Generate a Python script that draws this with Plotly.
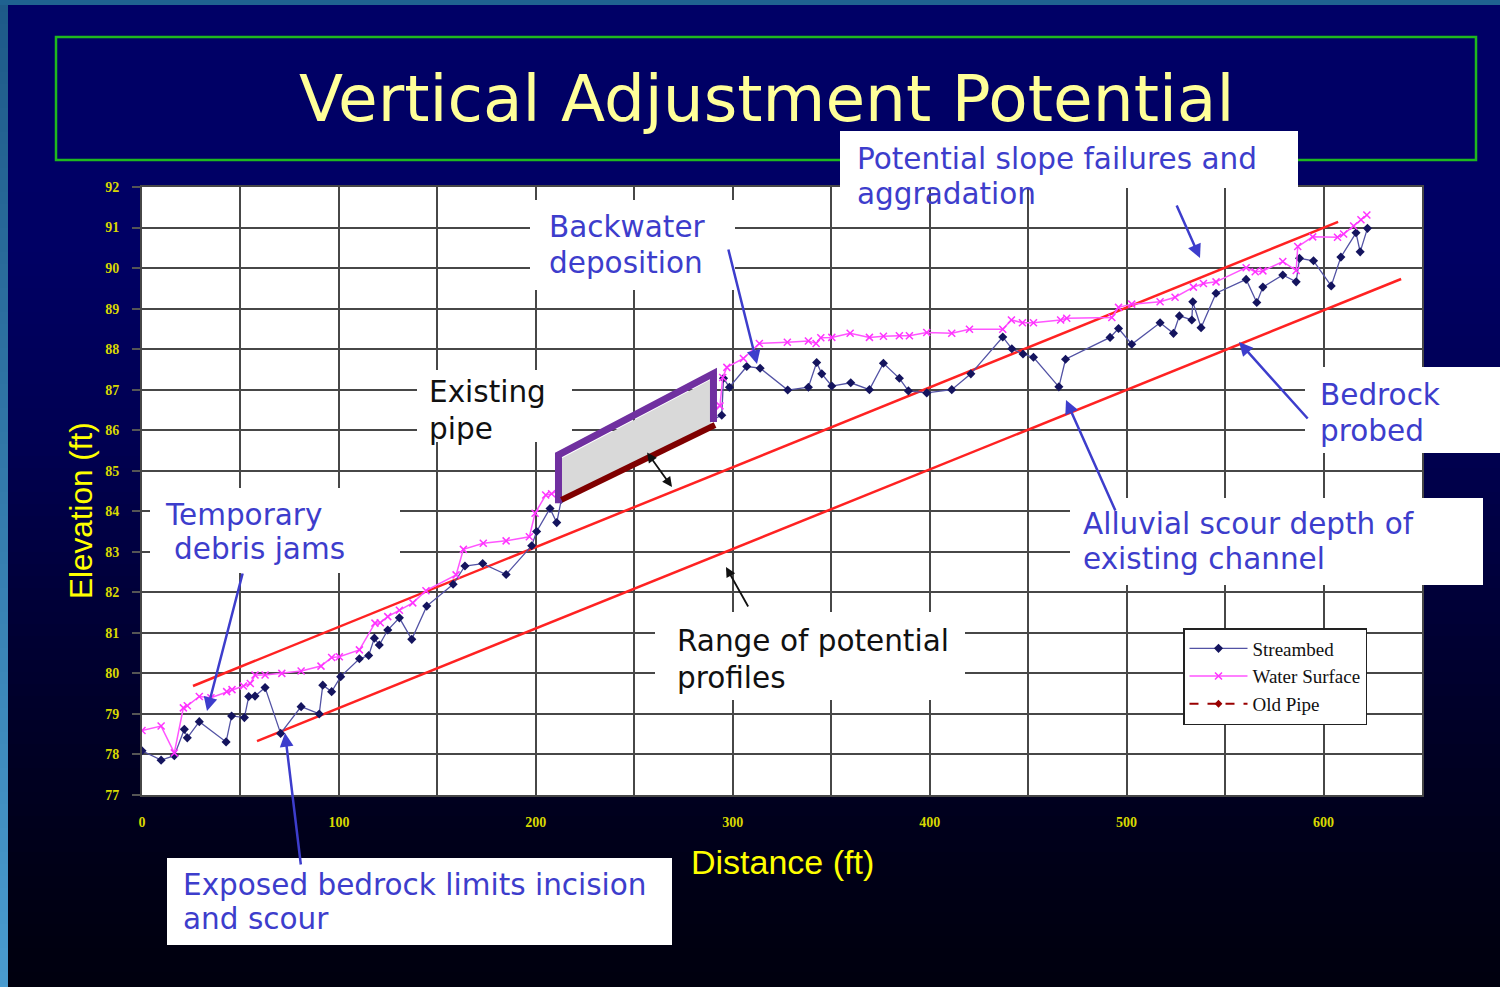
import plotly.graph_objects as go

# ---------------- data ----------------
streambed_x = [0, 9.7, 16.4, 21.5, 23, 29.1, 42.7, 45.5, 52, 54.2, 57.4, 62.5, 70.4, 80.8, 90, 91.8,
               96.3, 100.9, 110.4, 115.1, 118, 120.5, 124.8, 130.7, 137, 144.6, 158, 164, 173, 184.9,
               197.9, 200.4, 207.2, 210.6, 213, 294.4, 295.3, 298.3, 307.1, 313.9, 327.9, 338.4,
               342.6, 345.2, 350.3, 359.9, 369.4, 376.5, 384.6, 389.2, 398.5, 411.2, 420.9, 437.1,
               441.7, 447.4, 452.7, 465.6, 469, 491.6, 495.9, 502.6, 517, 523.8, 526.8, 533.1,
               533.6, 537.8, 545.4, 560.7, 566.1, 569.2, 579.3, 586.1, 587.8, 594.9, 603.9, 608.8,
               616.5, 618.6, 622.3]
streambed_y = [78.09, 77.86, 77.97, 78.62, 78.41, 78.81, 78.31, 78.95, 78.91, 79.43, 79.44, 79.65,
               78.52, 79.18, 79.0, 79.71, 79.55, 79.92, 80.36, 80.44, 80.87, 80.70, 81.07, 81.37,
               80.84, 81.66, 82.2, 82.65, 82.71, 82.44, 83.15, 83.5, 84.07, 83.72, 84.3, 86.37,
               87.28, 87.06, 87.57, 87.53, 86.99, 87.06, 87.67, 87.39, 87.09, 87.17, 87.0, 87.65,
               87.28, 86.97, 86.92, 87.0, 87.39, 88.3, 88.01, 87.88, 87.8, 87.07, 87.75, 88.29,
               88.51, 88.12, 88.65, 88.39, 88.82, 88.72, 89.17, 88.53, 89.38, 89.72, 89.15, 89.53,
               89.83, 89.66, 90.24, 90.18, 89.56, 90.27, 90.87, 90.40, 90.98]

water_x = [0, 9.7, 16.4, 21, 23, 29.1, 35, 43, 45.7, 51.5, 55, 57.4, 62.5, 71, 80.8, 90.9, 96.3,
           100.2, 110.4, 118.3, 121, 124.8, 130.7, 137.5, 144.2, 159.5, 163.2, 173.3, 184.9, 196.7,
           199.6, 205, 208, 293.5, 294.9, 297, 305.4, 313.5, 327.7, 338.4, 342.3, 344.7, 350.3,
           359.6, 369.4, 376.5, 384.6, 389.7, 398.5, 411.2, 420.2, 437.1, 441.5, 447.1, 452.7,
           466.5, 469.6, 492.5, 495.9, 502.6, 517, 524.6, 533.9, 539, 545.4, 560.7, 565.3, 569.2,
           579.3, 586.1, 586.9, 594.5, 607.1, 610.2, 615.3, 619, 622]
water_y = [78.59, 78.70, 78.04, 79.15, 79.2, 79.43, 79.4, 79.55, 79.6, 79.69, 79.75, 79.96, 79.96,
           80.0, 80.06, 80.18, 80.39, 80.41, 80.58, 81.24, 81.25, 81.4, 81.56, 81.74, 82.04, 82.43,
           83.06, 83.21, 83.27, 83.37, 83.95, 84.4, 84.43, 86.6, 87.3, 87.55, 87.77, 88.14, 88.17,
           88.2, 88.14, 88.28, 88.29, 88.39, 88.29, 88.32, 88.33, 88.33, 88.41, 88.39, 88.49,
           88.49, 88.72, 88.65, 88.65, 88.72, 88.76, 88.78, 89.03, 89.11, 89.17, 89.28, 89.53,
           89.62, 89.66, 90.01, 89.91, 89.93, 90.16, 89.94, 90.53, 90.77, 90.76, 90.84, 91.04,
           91.19, 91.31]

old_pipe_x = [213, 291]
old_pipe_y = [84.28, 86.13]
pipe_outline_x = [211.5, 211.5, 290.2, 290.2]
pipe_outline_y = [84.2, 85.39, 87.4, 86.2]
pipe_fill_x = [213, 213, 289, 289]
pipe_fill_y = [84.3, 85.3, 87.25, 86.15]

upper_profile_x = [25.9, 607.4]
upper_profile_y = [79.69, 91.14]
lower_profile_x = [58.4, 639.4]
lower_profile_y = [78.33, 89.73]

x_tick_vals = [0, 100, 200, 300, 400, 500, 600]
x_tick_text = ["0", "100", "200", "300", "400", "500", "600"]
y_tick_vals = list(range(77, 93))

# ---------------- geometry helpers (layout) ----------------
L, R, T, B = 142, 1422, 187, 795
W, H = 1500, 987


def px(xp):
    return (xp - L) / (R - L)


def py(yp):
    return (B - yp) / (B - T)


fig = go.Figure()

fig.add_trace(go.Scatter(x=upper_profile_x, y=upper_profile_y, mode="lines",
                         line=dict(color="#ff2222", width=2.5), showlegend=False, hoverinfo="skip"))
fig.add_trace(go.Scatter(x=lower_profile_x, y=lower_profile_y, mode="lines",
                         line=dict(color="#ff2222", width=2.5), showlegend=False, hoverinfo="skip"))

fig.add_trace(go.Scatter(x=streambed_x, y=streambed_y, mode="lines+markers", name="Streambed",
                         line=dict(color="#5252a4", width=1.3),
                         marker=dict(symbol="diamond", size=7, color="#14145e")))
fig.add_trace(go.Scatter(x=water_x, y=water_y, mode="lines+markers", name="Water Surface",
                         line=dict(color="#ff55ff", width=1.5),
                         marker=dict(symbol="x-thin", size=7, color="#ff33ff",
                                     line=dict(color="#ff33ff", width=1.5))))

fig.add_trace(go.Scatter(x=pipe_fill_x, y=pipe_fill_y, mode="lines", fill="toself",
                         fillcolor="#d9d9d9", line=dict(width=0), showlegend=False, hoverinfo="skip"))
fig.add_trace(go.Scatter(x=pipe_outline_x, y=pipe_outline_y, mode="lines",
                         line=dict(color="#7030a0", width=7), showlegend=False, hoverinfo="skip"))
fig.add_trace(go.Scatter(x=old_pipe_x, y=old_pipe_y, mode="lines",
                         line=dict(color="#7f0000", width=6), showlegend=False, hoverinfo="skip"))
fig.add_trace(go.Scatter(x=[None], y=[None], mode="lines+markers", name="Old Pipe",
                         line=dict(color="#990000", width=2, dash="dash"),
                         marker=dict(symbol="diamond", size=6, color="#990000")))

# ---------------- background ----------------
shapes = []
stops = [(0, 102), (250, 100), (450, 80), (600, 56), (750, 36), (880, 22), (987, 14)]


def blue_at(y):
    for (y0, c0), (y1, c1) in zip(stops[:-1], stops[1:]):
        if y0 <= y <= y1:
            return c0 + (c1 - c0) * (y - y0) / (y1 - y0)
    return stops[-1][1]


step = 12
for y0 in range(0, H, step):
    y1 = min(H, y0 + step + 1)
    b = int(round(blue_at(y0 + step / 2)))
    shapes.append(dict(type="rect", xref="paper", yref="paper", x0=px(0), x1=px(W),
                       y0=py(y1), y1=py(y0), fillcolor=f"rgb(0,0,{b})", line=dict(width=0),
                       layer="below"))
# left teal strip
for y0 in range(0, H, step):
    y1 = min(H, y0 + step + 1)
    t = (y0 + step / 2) / H
    r, g, b = int(30 + 44 * t), int(90 + 66 * t), int(136 + 72 * t)
    shapes.append(dict(type="rect", xref="paper", yref="paper", x0=px(0), x1=px(8),
                       y0=py(y1), y1=py(y0), fillcolor=f"rgb({r},{g},{b})", line=dict(width=0),
                       layer="below"))
shapes.append(dict(type="rect", xref="paper", yref="paper", x0=px(0), x1=px(W),
                   y0=py(5), y1=py(0), fillcolor="#1f6290", line=dict(width=0), layer="below"))
# plot area white
shapes.append(dict(type="rect", xref="paper", yref="paper", x0=0, x1=1, y0=0, y1=1,
                   fillcolor="white", line=dict(width=0), layer="below"))
# green title frame
shapes.append(dict(type="rect", xref="paper", yref="paper", x0=px(56), x1=px(1476),
                   y0=py(160), y1=py(37), fillcolor="rgba(0,0,0,0)",
                   line=dict(color="#1fb81f", width=2.5), layer="above"))

# white callout boxes
boxes = [
    (840, 131, 1298, 188),    # potential slope failures
    (530, 200, 735, 290),     # backwater
    (417, 370, 572, 442),     # existing pipe
    (150, 488, 400, 573),     # debris jams
    (1305, 367, 1500, 453),   # bedrock probed
    (1070, 498, 1483, 585),   # alluvial scour
    (655, 612, 965, 700),     # range of potential
    (167, 858, 672, 945),     # exposed bedrock
]
for (x0, y0, x1, y1) in boxes:
    shapes.append(dict(type="rect", xref="paper", yref="paper", x0=px(x0), x1=px(x1),
                       y0=py(y1), y1=py(y0), fillcolor="white",
                       line=dict(width=0), layer="above"))

annotations = []
BLUE = "#3d3dcc"
TXT_FONT = "DejaVu Sans"


def line_text(text, xl, yc, color=BLUE, size=29.5):
    annotations.append(dict(text=text, xref="paper", yref="paper", x=px(xl), y=py(yc),
                            xanchor="left", yanchor="middle", align="left", showarrow=False,
                            font=dict(family=TXT_FONT, size=size, color=color)))


line_text("Potential slope failures and", 855, 159)
line_text("aggradation", 855, 194)
line_text("Backwater", 547, 227)
line_text("deposition", 547, 263)
line_text("Existing", 427, 392, color="#111111")
line_text("pipe", 427, 429, color="#111111")
line_text("Temporary", 163, 515)
line_text("debris jams", 172, 549)
line_text("Bedrock", 1318, 395)
line_text("probed", 1318, 431)
line_text("Alluvial scour depth of", 1081, 524)
line_text("existing channel", 1081, 559)
line_text("Range of potential", 675, 641, color="#111111")
line_text("profiles", 675, 678, color="#111111")
line_text("Exposed bedrock limits incision", 181, 885)
line_text("and scour", 181, 919)

# title and axis titles
annotations.append(dict(text="Vertical Adjustment Potential", xref="paper", yref="paper",
                        x=px(766), y=py(98), xanchor="center", yanchor="middle", showarrow=False,
                        font=dict(family="DejaVu Sans", size=64.5, color="#ffff99")))
annotations.append(dict(text="Distance (ft)", xref="paper", yref="paper",
                        x=px(782), y=py(862), xanchor="center", yanchor="middle", showarrow=False,
                        font=dict(family="Liberation Sans", size=34, color="#ffff00")))
annotations.append(dict(text="Elevation (ft)", xref="paper", yref="paper", textangle=-90,
                        x=px(81), y=py(511), xanchor="center", yanchor="middle", showarrow=False,
                        font=dict(family="Liberation Sans", size=31.5, color="#ffff00")))


def arrow(hx, hy, tx, ty, color=BLUE, width=2.5, side="end"):
    annotations.append(dict(text="", xref="paper", yref="paper", x=px(hx), y=py(hy),
                            ax=tx - hx, ay=ty - hy, showarrow=True, arrowhead=2, arrowsize=1.1,
                            arrowwidth=width, arrowcolor=color, arrowside=side, standoff=0,
                            startstandoff=0))


arrow(207, 711, 243, 572)
arrow(285, 733, 301, 866)
arrow(757, 364, 728, 248)
arrow(1200, 258, 1176, 204)
arrow(1239, 342, 1309, 420)
arrow(1066, 400, 1116, 512)
arrow(672, 487, 646, 451, color="#111111", width=1.8, side="end+start")
arrow(726, 567, 749, 608, color="#111111", width=1.8)

fig.update_layout(
    width=W, height=H, autosize=False,
    margin=dict(l=L, r=W - R, t=T, b=H - B, pad=0),
    paper_bgcolor="#000050", plot_bgcolor="white",
    shapes=shapes, annotations=annotations,
    showlegend=True,
    legend=dict(x=px(1183), y=py(628), xanchor="left", yanchor="top", bgcolor="white",
                bordercolor="#222222", borderwidth=1.5, tracegroupgap=0,
                font=dict(family="Liberation Serif", size=19, color="#111111"),
                itemwidth=58),
    xaxis=dict(range=[0, 650], tickvals=x_tick_vals, ticktext=x_tick_text,
               showgrid=True, gridcolor="#474747", gridwidth=2,
               minor=dict(dtick=50, tick0=0, showgrid=True, gridcolor="#474747", gridwidth=2),
               ticks="", ticklabelstandoff=13, zeroline=False,
               showline=True, linecolor="#474747", linewidth=2, mirror=True,
               tickfont=dict(family="Liberation Serif", size=14, color="#d8d800", weight="bold")),
    yaxis=dict(range=[77, 92], tickvals=y_tick_vals, showgrid=True, gridcolor="#474747",
               gridwidth=2, ticks="outside", ticklen=8, tickcolor="#555555", tickwidth=2,
               ticklabelstandoff=10, zeroline=False,
               showline=True, linecolor="#474747", linewidth=2, mirror=True,
               tickfont=dict(family="Liberation Serif", size=14, color="#d8d800", weight="bold")),
)

fig.write_html("out.html", config={"displayModeBar": False},
               post_script="document.body.style.margin='0px';document.body.style.overflow='hidden';")
